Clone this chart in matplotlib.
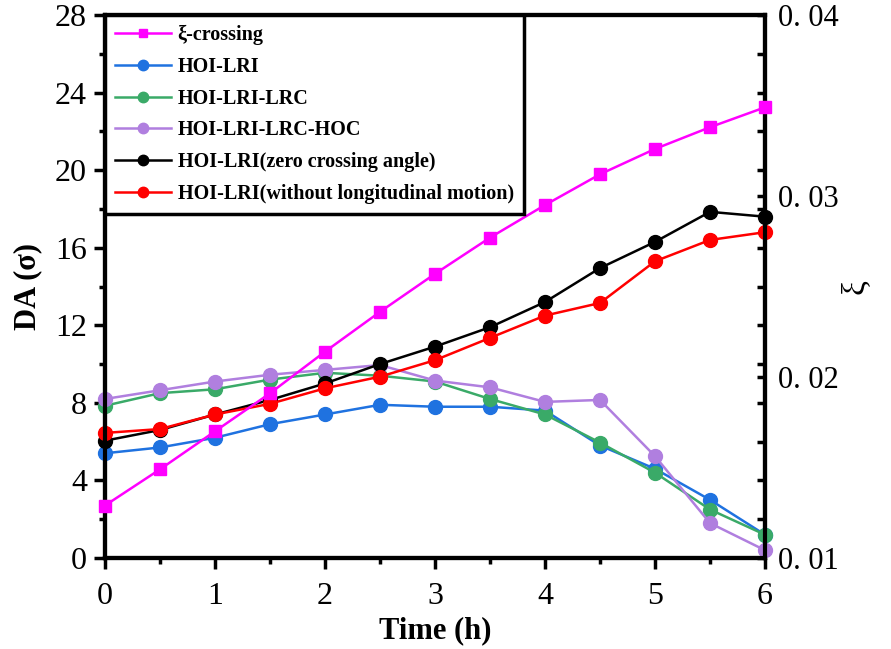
import matplotlib
matplotlib.use("Agg")
import matplotlib.pyplot as plt
from matplotlib.ticker import MultipleLocator, FixedLocator, FixedFormatter

plt.rcParams['font.family'] = ['Liberation Serif', 'DejaVu Serif']

time_h = [0, 0.5, 1, 1.5, 2, 2.5, 3, 3.5, 4, 4.5, 5, 5.5, 6]

xi_crossing = [0.0129, 0.0149, 0.0170, 0.0191, 0.0214, 0.0236, 0.0257,
               0.0277, 0.0295, 0.0312, 0.0326, 0.0338, 0.0349]
hoi_lri = [5.4, 5.7, 6.2, 6.9, 7.4, 7.9, 7.8, 7.8, 7.6, 5.8, 4.6, 3.0, 1.2]
hoi_lri_lrc = [7.85, 8.5, 8.7, 9.2, 9.55, 9.4, 9.1, 8.2, 7.4, 5.95, 4.4, 2.5, 1.2]
hoi_lri_lrc_hoc = [8.2, 8.65, 9.1, 9.45, 9.7, 9.95, 9.15, 8.8, 8.05, 8.15, 5.25, 1.8, 0.4]
zero_angle = [6.05, 6.6, 7.4, 8.15, 9.0, 10.0, 10.9, 11.9, 13.2, 14.95, 16.3, 17.85, 17.6]
no_longitudinal = [6.45, 6.65, 7.4, 7.95, 8.75, 9.35, 10.2, 11.35, 12.5, 13.15, 15.3, 16.4, 16.8]

da_series = [
    (hoi_lri, 'HOI-LRI', '#1f72e0'),
    (hoi_lri_lrc, 'HOI-LRI-LRC', '#3aaa68'),
    (hoi_lri_lrc_hoc, 'HOI-LRI-LRC-HOC', '#b07fdf'),
    (zero_angle, 'HOI-LRI(zero crossing angle)', 'black'),
    (no_longitudinal, 'HOI-LRI(without longitudinal motion)', 'red'),
]

fig = plt.figure(figsize=(8.91, 6.49), dpi=100)
ax = fig.add_axes([105 / 891, 91 / 649, 660 / 891, 543 / 649])
ax2 = ax.twinx()

handles = []
for values, label, color in da_series:
    h, = ax.plot(time_h, values, color=color, lw=1.8, marker='o', ms=10,
                 label=label, clip_on=False, zorder=3)
    handles.append(h)

hx, = ax2.plot(time_h, xi_crossing, color='#ff00ff', lw=1.8, marker='s', ms=8.5,
               label='ξ-crossing', clip_on=False, zorder=3)
handles.insert(0, hx)

ax.set_xlim(0, 6)
ax.set_ylim(0, 28)
ax2.set_ylim(0.01, 0.04)

ax.xaxis.set_major_locator(MultipleLocator(1))
ax.xaxis.set_minor_locator(MultipleLocator(0.5))
ax.yaxis.set_major_locator(MultipleLocator(4))
ax.yaxis.set_minor_locator(MultipleLocator(2))

ax.tick_params(axis='both', which='major', direction='out', length=8, width=2.5,
               labelsize=23)
ax.tick_params(axis='both', which='minor', direction='out', length=4.5, width=2.5)
ax.tick_params(axis='x', which='major', pad=9)
ax.tick_params(axis='y', which='major', pad=5)
ax.tick_params(top=False, right=False, which='both')

# right spine: inward ticks mirroring the DA grid, labels in xi units
xi_ticks = [0.01, 0.02, 0.03, 0.04]
ax2.yaxis.set_major_locator(FixedLocator(xi_ticks))
ax2.yaxis.set_major_formatter(FixedFormatter(['0. 01', '0. 02', '0. 03', '0. 04']))
da_marks = [0.01 + d * 0.03 / 28 for d in range(0, 29, 2)]
ax2.yaxis.set_minor_locator(FixedLocator(da_marks))
ax2.tick_params(axis='y', which='major', direction='in', length=6, width=2.5,
                labelsize=22, pad=9)
ax2.tick_params(axis='y', which='minor', direction='in', length=6, width=2.5)

for a in (ax, ax2):
    for s in a.spines.values():
        s.set_linewidth(3)

ax.set_xlabel('Time (h)', fontsize=22, fontweight='bold', labelpad=4)
ax.set_ylabel('DA (σ)', fontsize=22, fontweight='bold', labelpad=9)
ax2.set_ylabel('ξ', fontsize=24, labelpad=1)

leg = ax2.legend(handles=handles, loc='upper left', bbox_to_anchor=(0, 1),
                 borderaxespad=0, fancybox=False, framealpha=1, edgecolor='black',
                 prop={'weight': 'bold', 'size': 14.5}, handlelength=2.8,
                 handletextpad=0.3, labelspacing=0.58, borderpad=0.5,
                 markerscale=0.75)
leg.get_frame().set_linewidth(2.5)
leg.set_zorder(10)

fig.savefig('out.png', dpi=100)
